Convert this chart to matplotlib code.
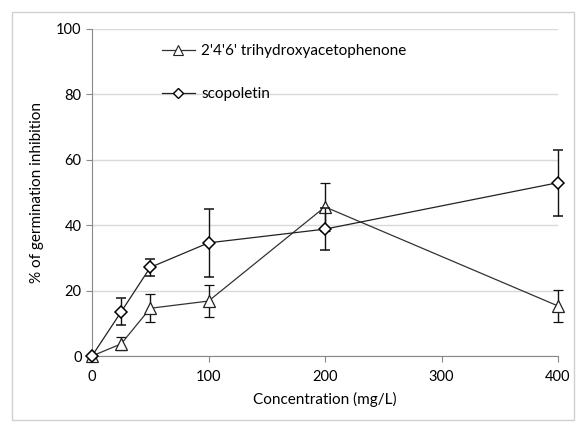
import matplotlib
matplotlib.use("Agg")
import matplotlib.pyplot as plt
from matplotlib.patches import Rectangle
from matplotlib.lines import Line2D

plt.rcParams['font.family'] = ['Lato', 'DejaVu Sans']

# concentrations (mg/L)
conc = [0, 25, 50, 100, 200, 400]

# 2'4'6' trihydroxyacetophenone
tha = [0, 3.7, 14.6, 16.8, 45.6, 15.3]
tha_err = [0, 2.0, 4.3, 5.0, 7.4, 4.8]

# scopoletin
scop = [0, 13.5, 27.1, 34.6, 38.8, 53.0]
scop_err = [0, 4.1, 2.5, 10.5, 6.5, 10.1]

labels = ["2'4'6' trihydroxyacetophenone", 'scopoletin']

fig = plt.figure(figsize=(5.76, 4.24), dpi=100)
ax = fig.add_axes([92/576, 1-356/424, (558-92)/576, (356-29)/424])

# light border round the whole chart
fig.patches.append(Rectangle((12/576, 4/424), 562/576, 408/424, transform=fig.transFigure,
                             fill=False, edgecolor='#d0d0d0', lw=1))

e1 = ax.errorbar(conc, tha, yerr=tha_err, color='#333333', lw=0.9, marker='^', ms=9,
                 mfc='white', mec='#222222', mew=0.9, capsize=3.5, ecolor='#111111',
                 elinewidth=1, capthick=1, zorder=3)
e2 = ax.errorbar(conc, scop, yerr=scop_err, color='#222222', lw=0.9, marker='D', ms=6.5,
                 mfc='white', mec='black', mew=1.1, capsize=3.5, ecolor='#111111',
                 elinewidth=1, capthick=1, zorder=4)
for e in (e1, e2):
    e[0].set_clip_on(False)
    for c in e[1]:
        c.set_clip_on(False)
    for b in e[2]:
        b.set_clip_on(False)

ax.set_xlim(0, 400)
ax.set_ylim(0, 100)
ax.set_xticks([0, 100, 200, 300, 400])
ax.set_yticks([0, 20, 40, 60, 80, 100])
ax.yaxis.grid(True, color='#d9d9d9', lw=1)
ax.set_axisbelow(True)
for s in ['top', 'right']:
    ax.spines[s].set_visible(False)
for s in ['left', 'bottom']:
    ax.spines[s].set_color('#888888')
ax.tick_params(axis='both', colors='#888888', labelcolor='black', labelsize=10.5, length=4)
ax.tick_params(axis='x', pad=6)
ax.set_xlabel('Concentration (mg/L)', fontsize=11, labelpad=6)
ax.set_ylabel('% of germination inhibition', fontsize=11, labelpad=9)

handles = [Line2D([], [], color='#333333', lw=0.9, marker='^', ms=7, mfc='white', mec='#222222', mew=0.8),
           Line2D([], [], color='#222222', lw=0.9, marker='D', ms=5.5, mfc='white', mec='black', mew=1)]
ax.legend(handles, labels, loc='upper left', bbox_to_anchor=(0.12, 0.995), frameon=False,
          fontsize=11, handlelength=2.2, labelspacing=1.9, handletextpad=0.4)

fig.savefig('out.png', dpi=100)
